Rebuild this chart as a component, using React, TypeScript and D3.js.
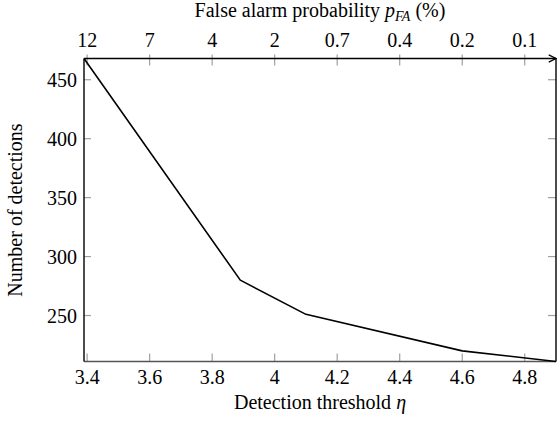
import React from "react";
import * as d3 from "d3";

const thresholds = [3.39, 3.89, 4.1, 4.6, 4.9];
const detections = [468, 280, 251, 220, 211];
const xTickValues = [3.4, 3.6, 3.8, 4.0, 4.2, 4.4, 4.6, 4.8];
const xTickLabels = ["3.4", "3.6", "3.8", "4", "4.2", "4.4", "4.6", "4.8"];
const topTickLabels = ["12", "7", "4", "2", "0.7", "0.4", "0.2", "0.1"];
const yTickValues = [250, 300, 350, 400, 450];

const W = 557;
const H = 421;
const M = { left: 84, right: 556, top: 58.5, bottom: 361.5 };
const FONT = "Times New Roman";

export default function App() {
  const x = d3.scaleLinear().domain([3.39, 4.9]).range([M.left, M.right]);
  const y = d3.scaleLinear().domain([211, 468]).range([M.bottom, M.top]);
  const pts = thresholds.map((t, i) => [t, detections[i]] as [number, number]);
  const line = d3
    .line<[number, number]>()
    .x((d) => x(d[0]))
    .y((d) => y(d[1]));
  const tickColor = "#a0a0a0";
  const fs = 20;
  const ts = { fontFamily: FONT };

  return (
    <svg width={W} height={H} style={{ position: "absolute", left: 0, top: 0 }}>
      <style>{`.t { font-family: "Times New Roman", "Liberation Serif", serif !important; }`}</style>
      <defs>
        <marker
          id="arr"
          viewBox="0 0 10 10"
          refX="9"
          refY="5"
          markerWidth="7"
          markerHeight="7"
          orient="auto"
        >
          <path d="M1,1 L9,5 L1,9" fill="none" stroke="#000" strokeWidth={1.4} />
        </marker>
      </defs>

      {/* bottom ticks */}
      {xTickValues.map((v, i) => (
        <g key={"bx" + i}>
          <line x1={x(v)} x2={x(v)} y1={M.bottom} y2={M.bottom - 8} stroke={tickColor} strokeWidth={1.2} />
          <text className="t" x={x(v)} y={383.5} textAnchor="middle" fontSize={fs} style={ts}>
            {xTickLabels[i]}
          </text>
        </g>
      ))}
      {/* top ticks */}
      {xTickValues.map((v, i) => (
        <g key={"tx" + i}>
          <line x1={x(v)} x2={x(v)} y1={M.top - 4} y2={M.top + 7} stroke={tickColor} strokeWidth={1.2} />
          <text className="t" x={x(v)} y={46.5} textAnchor="middle" fontSize={fs} style={ts}>
            {topTickLabels[i]}
          </text>
        </g>
      ))}
      {/* y ticks */}
      {yTickValues.map((v) => (
        <g key={"y" + v}>
          <line x1={M.left} x2={M.left + 7} y1={y(v)} y2={y(v)} stroke={tickColor} strokeWidth={1.2} />
          <line x1={M.right - 8} x2={M.right} y1={y(v)} y2={y(v)} stroke={tickColor} strokeWidth={1.2} />
          <text className="t" x={77} y={y(v) + 7} textAnchor="end" fontSize={fs} style={ts}>
            {v}
          </text>
        </g>
      ))}

      {/* axis lines */}
      <line x1={M.left} x2={M.right} y1={M.bottom} y2={M.bottom} stroke="#555" strokeWidth={1.3} />
      <line x1={M.left} x2={M.left} y1={M.top} y2={M.bottom} stroke="#000" strokeWidth={1.4} />
      <line x1={M.right} x2={M.right} y1={M.top} y2={M.bottom} stroke="#000" strokeWidth={1.4} />
      <line x1={M.left} x2={M.right} y1={M.top} y2={M.top} stroke="#000" strokeWidth={1.3} markerEnd="url(#arr)" />

      {/* data */}
      <path d={line(pts) || ""} fill="none" stroke="#000" strokeWidth={1.6} strokeLinejoin="round" />

      {/* labels */}
      <text className="t" x={(M.left + M.right) / 2} y={409} textAnchor="middle" fontSize={fs} style={ts}>
        Detection threshold <tspan fontStyle="italic">η</tspan>
      </text>
      <text className="t" x={(M.left + M.right) / 2} y={17} textAnchor="middle" fontSize={fs} style={ts}>
        False alarm probability <tspan fontStyle="italic">p</tspan>
        <tspan fontStyle="italic" fontSize={14} dy={4}>FA</tspan>
        <tspan dy={-4}> (%)</tspan>
      </text>
      <text
        className="t"
        transform={`translate(22,${(M.top + M.bottom) / 2}) rotate(-90)`}
        textAnchor="middle"
        fontSize={fs}
        style={ts}
      >
        Number of detections
      </text>
    </svg>
  );
}
